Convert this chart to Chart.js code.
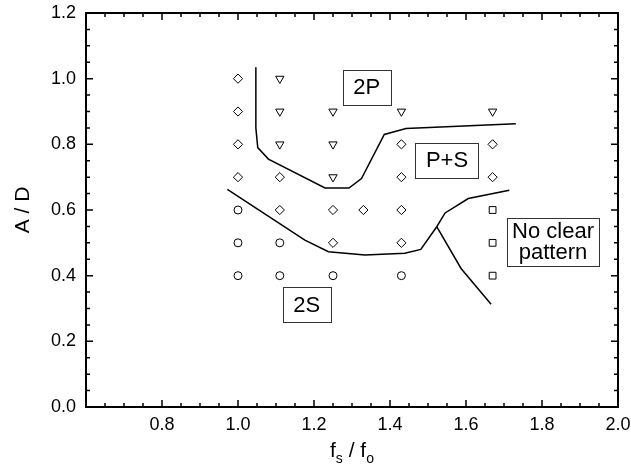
<!DOCTYPE html>
<html>
<head>
<meta charset="utf-8">
<script src="https://cdn.jsdelivr.net/npm/chart.js@4"></script>
<style>
  body { margin: 0; background: #fff; }
  #wrap { width: 631px; height: 473px; }
</style>
</head>
<body>
<div id="wrap"><canvas id="graf"></canvas></div>
<script>
const FONT = '"Liberation Sans", Arial, sans-serif'

// tick labels
const xTicks = [0.6, 0.8, 1.0, 1.2, 1.4, 1.6, 1.8, 2.0]
const yTicks = [0.0, 0.2, 0.4, 0.6, 0.8, 1.0, 1.2]

// diamonds: P+S
const psX = [1.0, 1.0, 1.0, 1.0, 1.11, 1.11, 1.25, 1.25, 1.33, 1.43, 1.43, 1.43, 1.43, 1.67, 1.67]
const psY = [1.0, 0.9, 0.8, 0.7, 0.7, 0.6, 0.6, 0.5, 0.6, 0.8, 0.7, 0.6, 0.5, 0.8, 0.7]
// triangles: 2P
const twoPX = [1.11, 1.11, 1.11, 1.25, 1.25, 1.25, 1.43, 1.67]
const twoPY = [1.0, 0.9, 0.8, 0.9, 0.8, 0.7, 0.9, 0.9]
// circles: 2S
const twoSX = [1.0, 1.0, 1.0, 1.11, 1.11, 1.25, 1.43]
const twoSY = [0.6, 0.5, 0.4, 0.5, 0.4, 0.4, 0.4]
// squares: no clear pattern
const ncX = [1.67, 1.67, 1.67]
const ncY = [0.6, 0.5, 0.4]

// boundary lines
const upperX = [1.047, 1.047, 1.052, 1.08, 1.229, 1.292, 1.325, 1.385, 1.442, 1.731]
const upperY = [1.035, 0.85, 0.79, 0.755, 0.667, 0.667, 0.696, 0.83, 0.848, 0.863]
const lowerX = [0.972, 1.176, 1.238, 1.334, 1.439, 1.481, 1.523, 1.545, 1.606, 1.714]
const lowerY = [0.663, 0.508, 0.473, 0.463, 0.468, 0.480, 0.549, 0.591, 0.635, 0.660]
const edgeX = [1.523, 1.587, 1.666]
const edgeY = [0.549, 0.422, 0.313]

// region labels
const regionText = [['2P'], ['P+S'], ['No clear', 'pattern'], ['2S']]
const regionX = [1.339, 1.55, 1.829, 1.181]
const regionY = [0.974, 0.752, 0.504, 0.312]

const zip = (xs, ys) => xs.map((x, i) => ({x: x, y: ys[i]}))

function markers(xs, ys, style, radius, rotation) {
  return {
    data: zip(xs, ys),
    pointStyle: style,
    pointRadius: radius,
    rotation: rotation || 0,
    pointBorderColor: '#000',
    pointBackgroundColor: '#fff',
    pointBorderWidth: 1,
    showLine: false
  }
}
function curve(xs, ys) {
  return {
    data: zip(xs, ys),
    showLine: true,
    borderColor: '#000',
    borderWidth: 1.5,
    pointRadius: 0,
    tension: 0
  }
}

// frame with inward ticks on all four sides, and the axis titles
const frame = {
  id: 'frame',
  afterDraw(chart) {
    const {ctx, chartArea: a} = chart
    const x = chart.scales.x, y = chart.scales.y
    ctx.save()
    ctx.strokeStyle = '#000'
    ctx.lineWidth = 1.5
    ctx.beginPath()
    for (let k = 12; k <= 40; k++) {
      const px = x.getPixelForValue(k * 0.05)
      const len = k % 4 === 0 ? 7 : 4
      ctx.moveTo(px, a.bottom); ctx.lineTo(px, a.bottom - len)
      ctx.moveTo(px, a.top); ctx.lineTo(px, a.top + len)
    }
    for (let k = 0; k <= 24; k++) {
      const py = y.getPixelForValue(k * 0.05)
      const len = k % 4 === 0 ? 7 : 4
      ctx.moveTo(a.left, py); ctx.lineTo(a.left + len, py)
      ctx.moveTo(a.right, py); ctx.lineTo(a.right - len, py)
    }
    ctx.stroke()
    ctx.lineWidth = 2
    ctx.strokeRect(a.left, a.top, a.right - a.left, a.bottom - a.top)

    ctx.fillStyle = '#000'
    // y title
    ctx.font = '21px ' + FONT
    ctx.textAlign = 'center'
    ctx.textBaseline = 'middle'
    ctx.save()
    ctx.translate(23, (a.top + a.bottom) / 2)
    ctx.rotate(-Math.PI / 2)
    ctx.fillText('A / D', 0, 0)
    ctx.restore()

    // x title with subscripts
    const parts = [['f', 21, 0], ['s', 14, 6], [' / f', 21, 0], ['o', 14, 6]]
    ctx.textAlign = 'left'
    ctx.textBaseline = 'alphabetic'
    let total = 0
    parts.forEach(p => { ctx.font = p[1] + 'px ' + FONT; total += ctx.measureText(p[0]).width })
    let cx = (a.left + a.right) / 2 - total / 2
    const base = 457
    parts.forEach(p => {
      ctx.font = p[1] + 'px ' + FONT
      ctx.fillText(p[0], cx, base + p[2])
      cx += ctx.measureText(p[0]).width
    })
    ctx.restore()
  }
}

// boxed region names
const regions = {
  id: 'regions',
  afterDatasetsDraw(chart) {
    const {ctx} = chart
    const x = chart.scales.x, y = chart.scales.y
    ctx.save()
    ctx.font = '22px ' + FONT
    ctx.textAlign = 'center'
    ctx.textBaseline = 'middle'
    regionText.forEach((lines, i) => {
      const cx = x.getPixelForValue(regionX[i])
      const cy = y.getPixelForValue(regionY[i])
      const tw = Math.max(...lines.map(t => ctx.measureText(t).width))
      const padX = lines.length > 1 ? 5 : 10.5
      const lineH = 21
      const w = tw + padX * 2
      const h = lines.length > 1 ? 48 : 35
      ctx.fillStyle = '#fff'
      ctx.fillRect(cx - w / 2, cy - h / 2, w, h)
      ctx.strokeStyle = '#333'
      ctx.lineWidth = 1
      ctx.strokeRect(Math.round(cx - w / 2) + 0.5, Math.round(cy - h / 2) + 0.5, Math.round(w), Math.round(h))
      ctx.fillStyle = '#000'
      lines.forEach((t, j) => {
        ctx.fillText(t, cx, cy + (j - (lines.length - 1) / 2) * lineH + 1)
      })
    })
    ctx.restore()
  }
}

new Chart(document.getElementById('graf'), {
  type: 'scatter',
  data: {
    datasets: [
      curve(upperX, upperY),
      curve(lowerX, lowerY),
      curve(edgeX, edgeY),
      markers(psX, psY, 'rectRot', 4.6),
      markers(twoPX, twoPY, 'triangle', 4.8, 180),
      markers(twoSX, twoSY, 'circle', 4),
      markers(ncX, ncY, 'rect', 4.8)
    ]
  },
  options: {
    responsive: true,
    maintainAspectRatio: false,
    animation: false,
    layout: {padding: {top: 13, right: 13, left: 0, bottom: 0}},
    plugins: {legend: {display: false}, tooltip: {enabled: false}},
    scales: {
      x: {
        type: 'linear', min: 0.6, max: 2.0,
        afterBuildTicks: s => { s.ticks = xTicks.map(v => ({value: v})) },
        afterFit: s => { s.height = 66; s.paddingLeft = 0; s.paddingRight = 0 },
        grid: {display: false, drawTicks: false},
        border: {display: false},
        ticks: {
          autoSkip: false, maxRotation: 0, padding: 7, color: '#000',
          font: {family: FONT, size: 18},
          callback: v => v === 0.6 ? '' : v.toFixed(1)
        }
      },
      y: {
        type: 'linear', min: 0, max: 1.2,
        afterBuildTicks: s => { s.ticks = yTicks.map(v => ({value: v})) },
        afterFit: s => { s.width = 86; s.paddingTop = 0; s.paddingBottom = 0 },
        grid: {display: false, drawTicks: false},
        border: {display: false},
        ticks: {
          autoSkip: false, padding: 10, color: '#000',
          font: {family: FONT, size: 18},
          callback: v => v.toFixed(1)
        }
      }
    }
  },
  plugins: [frame, regions]
})
</script>
</body>
</html>
